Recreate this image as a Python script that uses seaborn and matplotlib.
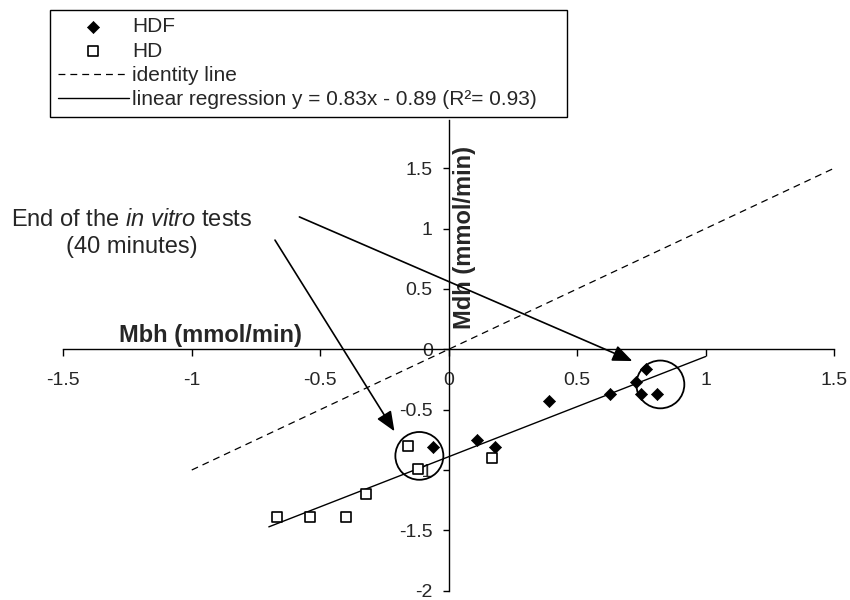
import numpy as np
import pandas as pd
import matplotlib
matplotlib.use("Agg")
import matplotlib.pyplot as plt
from matplotlib.patches import Ellipse
import seaborn as sns

# Blood-side (Mbh) vs dialysate-side (Mdh) mass transfer, mmol/min
hdf_mbh = [-0.06, 0.11, 0.18, 0.39, 0.63, 0.73, 0.77, 0.75, 0.81]
hdf_mdh = [-0.81, -0.75, -0.81, -0.43, -0.37, -0.27, -0.165, -0.37, -0.37]
hd_mbh = [-0.67, -0.54, -0.40, -0.32, -0.16, -0.12, 0.17]
hd_mdh = [-1.39, -1.39, -1.39, -1.20, -0.80, -0.99, -0.90]

# Regression reported in the legend
reg_slope = 0.83
reg_intercept = -0.89
reg_r2 = 0.93
reg_x_range = [-0.70, 1.00]
identity_x_range = [-1.0, 1.5]

x_ticks = [-1.5, -1, -0.5, 0, 0.5, 1, 1.5]
y_ticks = [-2, -1.5, -1, -0.5, 0, 0.5, 1, 1.5]
x_tick_labels = ["-1.5", "-1", "-0.5", "0", "0.5", "1", "1.5"]
y_tick_labels = ["-2", "-1.5", "-1", "-0.5", "0", "0.5", "1", "1.5"]

# End-of-test points that get circled (centre x, centre y)
end_test_circles = [(-0.114, -0.883), (0.824, -0.291)]
arrow_tips = [(0.715, -0.097), (-0.211, -0.679)]
arrow_starts = [(-0.581, 1.097), (-0.676, 0.905)]

sns.set_style("white")
plt.rcParams["font.family"] = ["Liberation Sans", "DejaVu Sans"]
plt.rcParams["mathtext.fontset"] = "custom"
plt.rcParams["mathtext.rm"] = "Liberation Sans"
plt.rcParams["mathtext.it"] = "Liberation Sans:italic"
plt.rcParams["mathtext.bf"] = "Liberation Sans:bold"

fig = plt.figure(figsize=(8.5, 6), dpi=100)
ax = fig.add_axes([63.3 / 850, 9.3 / 600, (834 - 63.3) / 850, (590.7 - 120) / 600])

df_hdf = pd.DataFrame({"Mbh": hdf_mbh, "Mdh": hdf_mdh})
df_hd = pd.DataFrame({"Mbh": hd_mbh, "Mdh": hd_mdh})

ident = pd.DataFrame({"x": identity_x_range, "y": identity_x_range})
reg = pd.DataFrame({"x": reg_x_range,
                    "y": [reg_slope * v + reg_intercept for v in reg_x_range]})

sns.lineplot(data=ident, x="x", y="y", ax=ax, color="black", lw=0.9,
             linestyle=(0, (5.5, 4)), label="identity line")
sns.lineplot(data=reg, x="x", y="y", ax=ax, color="black", lw=1.0,
             label=f"linear regression y = {reg_slope:.2f}x - {abs(reg_intercept):.2f} (R\u00b2= {reg_r2:.2f})")
sns.scatterplot(data=df_hdf, x="Mbh", y="Mdh", ax=ax, marker="D", s=38,
                color="black", edgecolor="black", linewidth=0.5, label="HDF", zorder=4)
sns.scatterplot(data=df_hd, x="Mbh", y="Mdh", ax=ax, marker="s", s=42,
                facecolor="white", edgecolor="black", linewidth=1.2, label="HD", zorder=4)

ax.set_xlim(-1.5, 1.5)
ax.set_ylim(-2, 1.9)
ax.set_xlabel("")
ax.set_ylabel("")

for side in ("top", "right"):
    ax.spines[side].set_visible(False)
ax.spines["left"].set_position(("data", 0))
ax.spines["bottom"].set_position(("data", 0))
for side in ("left", "bottom"):
    ax.spines[side].set_color("black")
    ax.spines[side].set_linewidth(1.0)

ax.set_xticks(x_ticks)
ax.set_xticklabels(x_tick_labels)
ax.set_yticks(y_ticks)
ax.set_yticklabels(y_tick_labels)
ax.tick_params(axis="x", direction="out", length=5, width=1, color="black",
               labelsize=14, pad=11, bottom=True)
ax.tick_params(axis="y", direction="out", length=4.5, width=1, color="black",
               labelsize=14, pad=7, left=True)

ax.text(-0.928, 0.061, "Mbh (mmol/min)", fontsize=17, fontweight="bold",
        ha="center", va="baseline")
ax.text(0.06, 0.93, "Mdh (mmol/min)", fontsize=17, fontweight="bold",
        rotation=90, ha="center", va="center")

ax.text(-1.235, 1.023, r"End of the $\mathit{in\ vitro}$ tests", fontsize=17,
        ha="center", va="baseline")
ax.text(-1.235, 0.798, "(40 minutes)", fontsize=17, ha="center", va="baseline")

for start, tip in zip(arrow_starts, arrow_tips):
    ax.annotate("", xy=tip, xytext=start,
                arrowprops=dict(arrowstyle="-|>,head_length=0.6,head_width=0.25",
                                mutation_scale=20, color="black", lw=1.2,
                                shrinkA=0, shrinkB=0))

for cx, cy in end_test_circles:
    ax.add_patch(Ellipse((cx, cy), width=48 / 256.9, height=48 / 121.2,
                         fill=False, edgecolor="black", lw=1.3, zorder=5))

handles, labels = ax.get_legend_handles_labels()
order = ["HDF", "HD", "identity line"]
sorted_pairs = sorted(zip(handles, labels),
                      key=lambda p: order.index(p[1]) if p[1] in order else 3)
ax.legend([p[0] for p in sorted_pairs], [p[1] for p in sorted_pairs],
          loc="upper left",
          bbox_to_anchor=(50 / 850, 1 - 118 / 600, 517 / 850, 108 / 600),
          bbox_transform=fig.transFigure, mode="expand", borderaxespad=0,
          frameon=True, fancybox=False, edgecolor="black", framealpha=1,
          fontsize=15, handlelength=3.45, handletextpad=0.15, borderpad=0.36,
          labelspacing=0.25)
ax.get_legend().get_frame().set_linewidth(1.0)

fig.savefig("out.png", dpi=100)
